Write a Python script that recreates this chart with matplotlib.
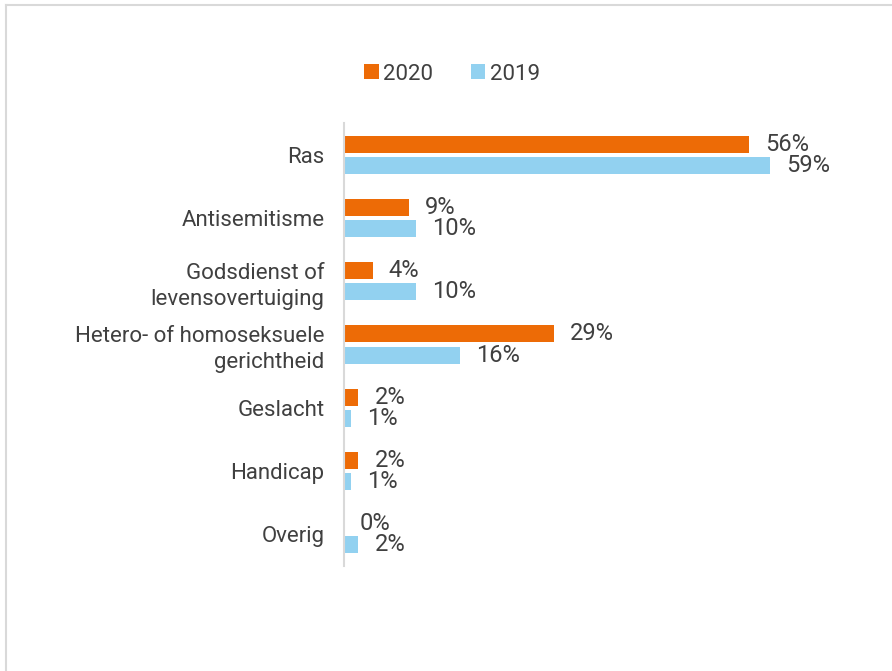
import matplotlib.pyplot as plt
import numpy as np
from matplotlib.lines import Line2D

plt.rcParams['font.family'] = ['Roboto', 'DejaVu Sans']

categories = ['Ras', 'Antisemitisme', 'Godsdienst of\nlevensovertuiging',
              'Hetero- of homoseksuele\ngerichtheid', 'Geslacht', 'Handicap', 'Overig']
values_2020 = [56, 9, 4, 29, 2, 2, 0]
values_2019 = [59, 10, 10, 16, 1, 1, 2]

c2020 = '#ED6B06'
c2019 = '#92D1F0'
text_col = '#404040'

fig = plt.figure(figsize=(8.92, 6.71), dpi=100)
ax = fig.add_axes([344 / 892, 1 - 566 / 671, (850 - 344) / 892, (566 - 123) / 671])

y = np.arange(len(categories))
h = 0.27
off = 0.167
ax.barh(y - off, values_2020, height=h, color=c2020, label='2020')
ax.barh(y + off, values_2019, height=h, color=c2019, label='2019')

for yi, v in zip(y, values_2020):
    ax.annotate(f'{v}%', (v, yi - off), xytext=(16, 0), textcoords='offset pixels',
                ha='left', va='center', fontsize=17, color=text_col)
for yi, v in zip(y, values_2019):
    ax.annotate(f'{v}%', (v, yi + off), xytext=(16, 0), textcoords='offset pixels',
                ha='left', va='center', fontsize=17, color=text_col)

ax.set_xlim(0, 70)
ax.set_ylim(len(categories) - 0.5, -0.5)
ax.set_yticks(y)
ax.set_yticklabels(categories, fontsize=16, color=text_col, linespacing=1.3)
ax.tick_params(axis='y', length=0, pad=14)
ax.set_xticks([])
for s in ['top', 'right', 'bottom']:
    ax.spines[s].set_visible(False)
ax.spines['left'].set_color('#d9d9d9')
ax.spines['left'].set_linewidth(1.5)

fig.legend(loc='center', bbox_to_anchor=(452 / 892, 1 - 74 / 671), ncol=2, frameon=False,
           fontsize=16, handlelength=0.65, handleheight=0.65, handletextpad=0.2,
           columnspacing=1.7, labelcolor=text_col)

# light border of the surrounding frame
fig.add_artist(Line2D([6 / 892, 6 / 892], [0, 1 - 5 / 671], transform=fig.transFigure,
                      color='#d9d9d9', lw=1.5))
fig.add_artist(Line2D([6 / 892, 1], [1 - 5 / 671, 1 - 5 / 671], transform=fig.transFigure,
                      color='#d9d9d9', lw=1.5))

fig.savefig('out.png', dpi=100)
